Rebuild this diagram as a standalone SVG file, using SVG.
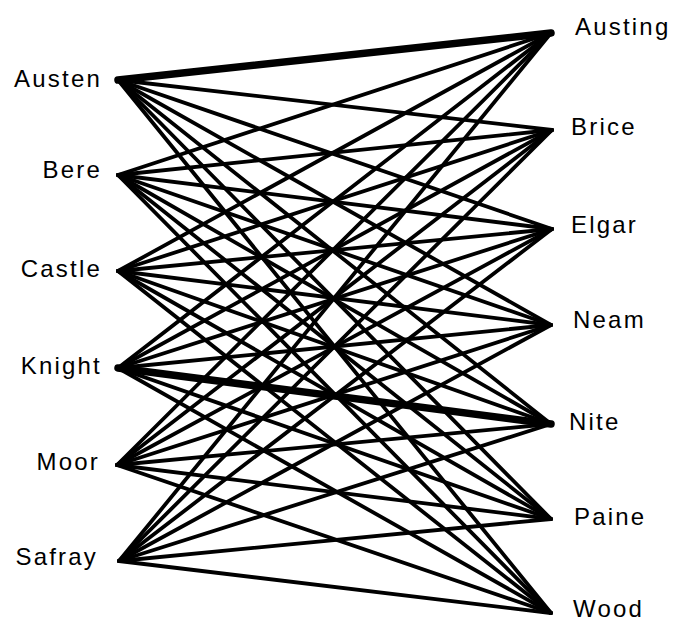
<svg xmlns="http://www.w3.org/2000/svg" width="676" height="623" viewBox="0 0 676 623">
<style>
.bg{fill:#fff}
.e{stroke:#000;stroke-width:3.8;stroke-linecap:round;fill:none}
.t{stroke:#000;stroke-width:7.5;stroke-linecap:round;fill:none}
.l{font-family:"Liberation Sans",Arial,sans-serif;font-size:24px;letter-spacing:2.2px;fill:#000}
.le{text-anchor:end}
</style>
<rect class="bg" width="676" height="623"/>
<g id="connectors">
<line class="t" x1="118" y1="80" x2="551" y2="33"/>
<line class="e" x1="118" y1="80" x2="552" y2="130"/>
<line class="e" x1="118" y1="80" x2="552" y2="229"/>
<line class="e" x1="118" y1="80" x2="551" y2="325"/>
<line class="e" x1="118" y1="80" x2="551" y2="424"/>
<line class="e" x1="118" y1="80" x2="551" y2="519"/>
<line class="e" x1="118" y1="80" x2="551" y2="613"/>
<line class="e" x1="118" y1="175" x2="551" y2="33"/>
<line class="e" x1="118" y1="175" x2="552" y2="130"/>
<line class="e" x1="118" y1="175" x2="552" y2="229"/>
<line class="e" x1="118" y1="175" x2="551" y2="325"/>
<line class="e" x1="118" y1="175" x2="551" y2="424"/>
<line class="e" x1="118" y1="175" x2="551" y2="519"/>
<line class="e" x1="118" y1="175" x2="551" y2="613"/>
<line class="e" x1="118" y1="271" x2="551" y2="33"/>
<line class="e" x1="118" y1="271" x2="552" y2="130"/>
<line class="e" x1="118" y1="271" x2="552" y2="229"/>
<line class="e" x1="118" y1="271" x2="551" y2="325"/>
<line class="e" x1="118" y1="271" x2="551" y2="424"/>
<line class="e" x1="118" y1="271" x2="551" y2="519"/>
<line class="e" x1="118" y1="271" x2="551" y2="613"/>
<line class="e" x1="118" y1="368" x2="551" y2="33"/>
<line class="e" x1="118" y1="368" x2="552" y2="130"/>
<line class="e" x1="118" y1="368" x2="552" y2="229"/>
<line class="e" x1="118" y1="368" x2="551" y2="325"/>
<line class="t" x1="118" y1="368" x2="551" y2="424"/>
<line class="e" x1="118" y1="368" x2="551" y2="519"/>
<line class="e" x1="118" y1="368" x2="551" y2="613"/>
<line class="e" x1="117" y1="465" x2="551" y2="33"/>
<line class="e" x1="117" y1="465" x2="552" y2="130"/>
<line class="e" x1="117" y1="465" x2="552" y2="229"/>
<line class="e" x1="117" y1="465" x2="551" y2="325"/>
<line class="e" x1="117" y1="465" x2="551" y2="424"/>
<line class="e" x1="117" y1="465" x2="551" y2="519"/>
<line class="e" x1="117" y1="465" x2="551" y2="613"/>
<line class="e" x1="119" y1="561" x2="551" y2="33"/>
<line class="e" x1="119" y1="561" x2="552" y2="130"/>
<line class="e" x1="119" y1="561" x2="552" y2="229"/>
<line class="e" x1="119" y1="561" x2="551" y2="325"/>
<line class="e" x1="119" y1="561" x2="551" y2="424"/>
<line class="e" x1="119" y1="561" x2="551" y2="519"/>
<line class="e" x1="119" y1="561" x2="551" y2="613"/>
</g>
<g id="austen"><text class="l le" x="102" y="87">Austen</text></g>
<g id="bere"><text class="l le" x="102" y="178">Bere</text></g>
<g id="castle"><text class="l le" x="102" y="277">Castle</text></g>
<g id="knight"><text class="l le" x="102" y="374">Knight</text></g>
<g id="moor"><text class="l le" x="100" y="470">Moor</text></g>
<g id="safray"><text class="l le" x="98" y="565">Safray</text></g>
<g id="austing"><text class="l" x="575" y="35">Austing</text></g>
<g id="brice"><text class="l" x="571" y="135">Brice</text></g>
<g id="elgar"><text class="l" x="571" y="233">Elgar</text></g>
<g id="neam"><text class="l" x="573" y="328">Neam</text></g>
<g id="nite"><text class="l" x="569" y="430">Nite</text></g>
<g id="paine"><text class="l" x="574" y="525">Paine</text></g>
<g id="wood"><text class="l" x="573" y="617">Wood</text></g>
</svg>
